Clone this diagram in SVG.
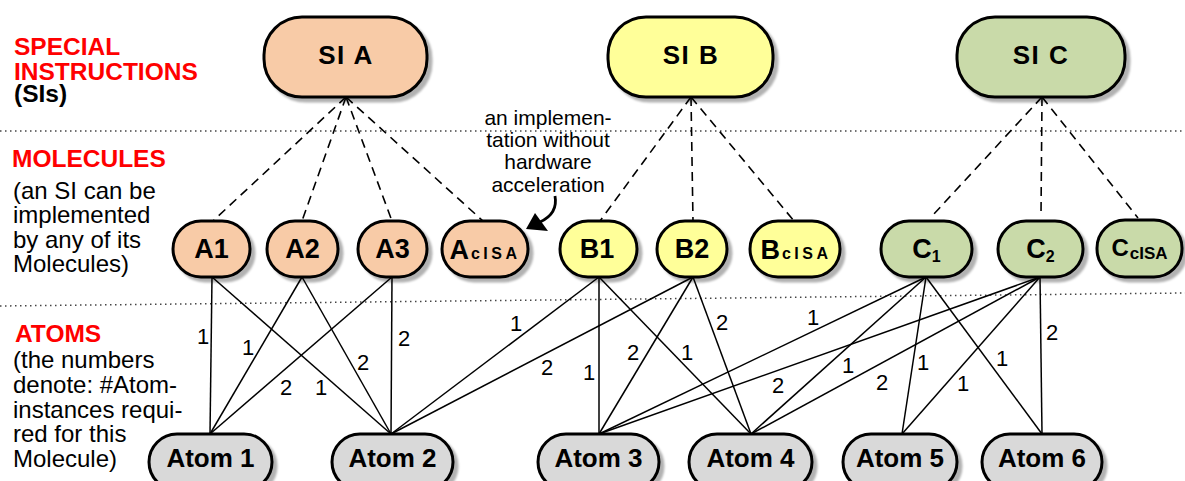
<svg xmlns="http://www.w3.org/2000/svg" width="1185" height="481" viewBox="0 0 1185 481">
  <defs>
    <filter id="shadow" x="-10%" y="-10%" width="130%" height="140%">
      <feDropShadow dx="4" dy="4" stdDeviation="1.2" flood-color="#000" flood-opacity="0.3"/>
    </filter>
  </defs>
  <style>
    text { font-family: "Liberation Sans", Arial, Helvetica, sans-serif; }
    .node { stroke: #000; stroke-width: 3; filter: url(#shadow); }
    .fa { fill: #F8CBA7; }
    .fb { fill: #FFFF99; }
    .fc { fill: #C9DAA9; }
    .fg { fill: #D9D9D9; }
    .lbl { font-weight: bold; text-anchor: middle; fill: #000; }
    .si-t { font-size: 26px; letter-spacing: 1.5px; }
    .mol-t { font-size: 27px; }
    .atom-t { font-size: 26px; }
    .head { font-size: 24.5px; font-weight: bold; fill: #FF0000; }
    .body { font-size: 24px; fill: #000; }
    .note { font-size: 21px; fill: #000; text-anchor: middle; }
    .num { font-size: 22px; fill: #000; text-anchor: middle; }
    .dash { stroke: #000; stroke-width: 1.6; stroke-dasharray: 9 6; fill: none; }
    .edge { stroke: #000; stroke-width: 1.5; fill: none; }
    .sep { stroke: #444; stroke-width: 1.5; stroke-dasharray: 1.5 3.5; fill: none; }
  </style>

  <!-- layer separators -->
  <g id="separators">
    <line class="sep" x1="0" y1="131" x2="1185" y2="131"/>
    <line class="sep" x1="0" y1="306" x2="1185" y2="293"/>
  </g>

  <!-- legend text on the left -->
  <g id="legend">
    <text class="head" x="14" y="55">SPECIAL</text>
    <text class="head" x="14" y="80">INSTRUCTIONS</text>
    <text x="14" y="102" style="font-size:24.5px;font-weight:bold;fill:#000">(SIs)</text>

    <text class="head" x="12" y="167">MOLECULES</text>
    <text class="body" x="13" y="199">(an SI can be</text>
    <text class="body" x="13" y="223">implemented</text>
    <text class="body" x="13" y="248">by any of its</text>
    <text class="body" x="13" y="272">Molecules)</text>

    <text class="head" x="15" y="342">ATOMS</text>
    <text class="body" x="13" y="368">(the numbers</text>
    <text class="body" x="13" y="393">denote: #Atom-</text>
    <text class="body" x="13" y="418">instances requi-</text>
    <text class="body" x="13" y="442">red for this</text>
    <text class="body" x="13" y="467">Molecule)</text>
  </g>

  <!-- connectors -->
  <g id="connectors">
    <!-- SI to molecule (dashed) -->
    <line class="dash" x1="346" y1="97" x2="213" y2="221"/>
    <line class="dash" x1="346" y1="97" x2="302" y2="221"/>
    <line class="dash" x1="346" y1="97" x2="392" y2="221"/>
    <line class="dash" x1="346" y1="97" x2="483" y2="221"/>
    <line class="dash" x1="691" y1="97" x2="600" y2="221"/>
    <line class="dash" x1="691" y1="97" x2="693" y2="221"/>
    <line class="dash" x1="691" y1="97" x2="794" y2="221"/>
    <line class="dash" x1="1042" y1="97" x2="933" y2="215"/>
    <line class="dash" x1="1042" y1="97" x2="1041" y2="215"/>
    <line class="dash" x1="1042" y1="97" x2="1138" y2="218"/>

    <!-- molecule to atom (solid) -->
    <line class="edge" x1="212" y1="277" x2="210" y2="434"/>
    <line class="edge" x1="212" y1="277" x2="391" y2="434"/>
    <line class="edge" x1="302" y1="277" x2="210" y2="434"/>
    <line class="edge" x1="302" y1="277" x2="391" y2="434"/>
    <line class="edge" x1="392" y1="277" x2="210" y2="434"/>
    <line class="edge" x1="392" y1="277" x2="391" y2="434"/>

    <line class="edge" x1="599" y1="277" x2="391" y2="434"/>
    <line class="edge" x1="599" y1="277" x2="599" y2="434"/>
    <line class="edge" x1="599" y1="277" x2="751" y2="434"/>
    <line class="edge" x1="693" y1="277" x2="391" y2="434"/>
    <line class="edge" x1="693" y1="277" x2="599" y2="434"/>
    <line class="edge" x1="693" y1="277" x2="751" y2="434"/>

    <line class="edge" x1="926" y1="277" x2="599" y2="434"/>
    <line class="edge" x1="926" y1="277" x2="751" y2="434"/>
    <line class="edge" x1="926" y1="277" x2="902" y2="434"/>
    <line class="edge" x1="926" y1="277" x2="1042" y2="434"/>
    <line class="edge" x1="1040" y1="277" x2="599" y2="434"/>
    <line class="edge" x1="1040" y1="277" x2="751" y2="434"/>
    <line class="edge" x1="1040" y1="277" x2="902" y2="434"/>
    <line class="edge" x1="1040" y1="277" x2="1042" y2="434"/>

    <!-- instance counts -->
    <text class="num" x="203" y="344">1</text>
    <text class="num" x="248" y="355">1</text>
    <text class="num" x="363" y="370">2</text>
    <text class="num" x="286" y="395">2</text>
    <text class="num" x="321" y="395">1</text>
    <text class="num" x="404" y="346">2</text>

    <text class="num" x="516" y="331">1</text>
    <text class="num" x="547" y="375">2</text>
    <text class="num" x="589" y="380">1</text>
    <text class="num" x="633" y="360">2</text>
    <text class="num" x="687" y="360">1</text>
    <text class="num" x="722" y="330">2</text>

    <text class="num" x="813" y="325">1</text>
    <text class="num" x="778" y="393">2</text>
    <text class="num" x="848" y="373">1</text>
    <text class="num" x="882" y="390">2</text>
    <text class="num" x="923" y="370">1</text>
    <text class="num" x="963" y="391">1</text>
    <text class="num" x="1002" y="366">1</text>
    <text class="num" x="1052" y="340">2</text>
  </g>

  <!-- annotation for the cISA molecule -->
  <g id="annotation">
    <text class="note" x="548" y="125">an implemen-</text>
    <text class="note" x="548" y="147">tation without</text>
    <text class="note" x="548" y="169">hardware</text>
    <text class="note" x="548" y="192">acceleration</text>
    <path d="M555,196 C557,207 553,216 540,222" stroke="#000" stroke-width="2.8" fill="none"/>
    <polygon points="526,229 535,213 548,231" fill="#000"/>
  </g>

  <!-- special instructions -->
  <g id="si-a">
    <rect class="node fa" x="264" y="17" width="163" height="80" rx="38"/>
    <text class="lbl si-t" x="346" y="64">SI  A</text>
  </g>
  <g id="si-b">
    <rect class="node fb" x="608" y="17" width="165" height="80" rx="38"/>
    <text class="lbl si-t" x="691" y="64">SI  B</text>
  </g>
  <g id="si-c">
    <rect class="node fc" x="957" y="17" width="168" height="80" rx="38"/>
    <text class="lbl si-t" x="1041" y="64">SI  C</text>
  </g>

  <!-- molecules -->
  <g id="mol-a1">
    <rect class="node fa" x="173" y="221" width="77" height="56" rx="28"/>
    <text class="lbl mol-t" x="211.5" y="258">A1</text>
  </g>
  <g id="mol-a2">
    <rect class="node fa" x="267" y="221" width="71" height="56" rx="28"/>
    <text class="lbl mol-t" x="302.5" y="258">A2</text>
  </g>
  <g id="mol-a3">
    <rect class="node fa" x="358" y="221" width="69" height="56" rx="28"/>
    <text class="lbl mol-t" x="392.5" y="258">A3</text>
  </g>
  <g id="mol-acisa">
    <rect class="node fa" x="442" y="221" width="86" height="56" rx="28"/>
    <text class="lbl mol-t" x="485" y="259">A<tspan font-size="16" letter-spacing="3.5" dx="2">cISA</tspan></text>
  </g>
  <g id="mol-b1">
    <rect class="node fb" x="560" y="221" width="77" height="56" rx="28"/>
    <text class="lbl mol-t" x="597" y="258">B1</text>
  </g>
  <g id="mol-b2">
    <rect class="node fb" x="657" y="221" width="70" height="56" rx="28"/>
    <text class="lbl mol-t" x="692" y="258">B2</text>
  </g>
  <g id="mol-bcisa">
    <rect class="node fb" x="750" y="221" width="90" height="56" rx="28"/>
    <text class="lbl mol-t" x="796" y="259">B<tspan font-size="16" letter-spacing="3.5" dx="2">cISA</tspan></text>
  </g>
  <g id="mol-c1">
    <rect class="node fc" x="881" y="221" width="91" height="56" rx="28"/>
    <text class="lbl mol-t" x="926.5" y="258">C<tspan font-size="16" dy="4">1</tspan></text>
  </g>
  <g id="mol-c2">
    <rect class="node fc" x="998" y="221" width="85" height="56" rx="28"/>
    <text class="lbl mol-t" x="1040.5" y="258">C<tspan font-size="16" dy="4">2</tspan></text>
  </g>
  <g id="mol-ccisa">
    <rect class="node fc" x="1097" y="220" width="85" height="57" rx="28"/>
    <text class="lbl" x="1139.5" y="256" style="font-size:24px">C<tspan font-size="17" dy="3" dx="1">cISA</tspan></text>
  </g>

  <!-- atoms -->
  <g id="atom-1">
    <rect class="node fg" x="149" y="434" width="123" height="56" rx="28"/>
    <text class="lbl atom-t" x="210.5" y="467">Atom 1</text>
  </g>
  <g id="atom-2">
    <rect class="node fg" x="332" y="434" width="121" height="56" rx="28"/>
    <text class="lbl atom-t" x="392.5" y="467">Atom 2</text>
  </g>
  <g id="atom-3">
    <rect class="node fg" x="538" y="434" width="121" height="56" rx="28"/>
    <text class="lbl atom-t" x="598.5" y="467">Atom 3</text>
  </g>
  <g id="atom-4">
    <rect class="node fg" x="689" y="434" width="123" height="56" rx="28"/>
    <text class="lbl atom-t" x="750.5" y="467">Atom 4</text>
  </g>
  <g id="atom-5">
    <rect class="node fg" x="843" y="434" width="114" height="56" rx="28"/>
    <text class="lbl atom-t" x="900" y="467">Atom 5</text>
  </g>
  <g id="atom-6">
    <rect class="node fg" x="982" y="434" width="120" height="56" rx="28"/>
    <text class="lbl atom-t" x="1042" y="467">Atom 6</text>
  </g>
</svg>
